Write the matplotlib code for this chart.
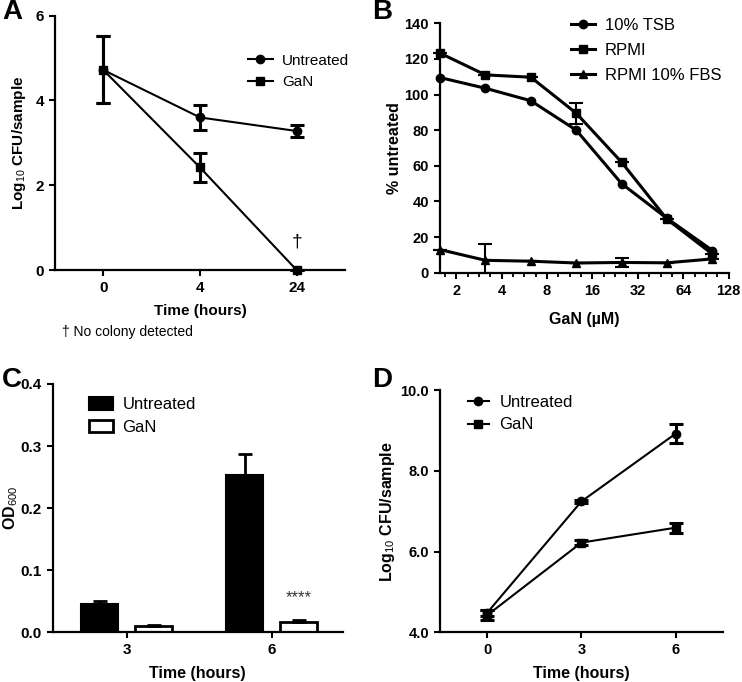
import matplotlib
matplotlib.use('Agg')
import matplotlib.pyplot as plt
import numpy as np
from matplotlib.ticker import FixedLocator, FixedFormatter, NullFormatter

plt.rcParams['font.family'] = ['Liberation Sans', 'DejaVu Sans']
plt.rcParams['mathtext.fontset'] = 'custom'
plt.rcParams['mathtext.rm'] = 'Liberation Sans'
plt.rcParams['mathtext.bf'] = 'Liberation Sans:bold'

#######################
#   DATA              #
#######################

# Panel A - CFU over time (categorical time points)
time_a = ['0', '4', '24']
untreated_a = [4.72, 3.60, 3.28]
untreated_a_err = [0.79, 0.30, 0.13]
gan_a = [4.72, 2.42, 0.0]
gan_a_err = [0.79, 0.34, 0.0]

# Panel B - dose response
gan_conc = [1.5625, 3.125, 6.25, 12.5, 25, 50, 100]
tsb_b = [109.5, 103.5, 96.5, 80.0, 50.0, 30.5, 12.5]
rpmi_b = [123.2, 111.0, 109.7, 89.5, 62.0, 30.0, 10.5]
rpmi_b_err = [0, 0, 0, 5.8, 0, 0, 0]
fbs_b = [13.0, 7.0, 6.5, 5.5, 5.8, 5.6, 7.8]
fbs_b_err_lo = [0, 7.0, 0, 0, 2.6, 0, 0]
fbs_b_err_hi = [0, 9.0, 0, 0, 2.6, 0, 0]
b_ticks = [2, 4, 8, 16, 32, 64, 128]

# Panel C - OD600 bars
time_c = ['3', '6']
untreated_c = [0.0447, 0.2536]
untreated_c_err = [0.005, 0.033]
gan_c = [0.0097, 0.0167]
gan_c_err = [0.002, 0.003]
star_c = 0.048

# Panel D - growth
time_d = [0, 3, 6]
untreated_d = [4.48, 7.24, 8.92]
untreated_d_err = [0.08, 0.03, 0.23]
gan_d = [4.42, 6.22, 6.59]
gan_d_err = [0.12, 0.07, 0.12]

###########################
#    Plotting the data    #
###########################

fig = plt.figure(figsize=(7.42, 6.82), dpi=100)

LABEL_FS = 11.5


def style_axes(ax, tick_fs):
    for s in ['top', 'right']:
        ax.spines[s].set_visible(False)
    for s in ['left', 'bottom']:
        ax.spines[s].set_linewidth(1.6)
    ax.tick_params(axis='both', which='major', direction='out', length=4.5, width=1.5,
                   labelsize=tick_fs)
    ax.tick_params(axis='both', which='minor', direction='out', length=3, width=1.3)
    for lab in ax.get_xticklabels() + ax.get_yticklabels():
        lab.set_fontweight('bold')


#### PANEL A ####
axA = fig.add_axes([0.074, 0.604, 0.391, 0.373])
xa = np.arange(len(time_a))
axA.errorbar(xa, untreated_a, yerr=untreated_a_err, color='k', lw=1.5, marker='o', ms=6,
             elinewidth=2.2, capsize=5, capthick=2.2, label='Untreated', clip_on=False, zorder=3)
axA.errorbar(xa, gan_a, yerr=gan_a_err, color='k', lw=1.5, marker='s', ms=6,
             elinewidth=2.2, capsize=5, capthick=2.2, label='GaN', clip_on=False, zorder=3)
axA.set_xlim(-0.5, 2.5)
axA.set_ylim(0, 6)
axA.set_xticks(xa)
axA.set_xticklabels(time_a)
axA.set_yticks([0, 2, 4, 6])
axA.set_xlabel('Time (hours)', fontsize=11, fontweight='bold', labelpad=6)
axA.set_ylabel(r'Log$_{\mathrm{10}}$ CFU/sample', fontsize=11, fontweight='bold', labelpad=5)
style_axes(axA, 11)
axA.text(xa[2], 0.45, '\u2020', fontsize=14, ha='center', va='bottom')
hA, lA = axA.get_legend_handles_labels()
hA = [h[0] for h in hA]
axA.legend(hA, lA, loc='upper left', bbox_to_anchor=(0.645, 0.875), frameon=False, fontsize=11,
           handlelength=1.6, handletextpad=0.6, labelspacing=0.5, borderaxespad=0)
fig.text(62 / 742, 1 - 332 / 682, '\u2020 No colony detected', fontsize=10, va='center', ha='left')

#### PANEL B ####
axB = fig.add_axes([0.593, 0.600, 0.389, 0.366])
axB.set_xscale('log', base=2)
axB.errorbar(gan_conc, tsb_b, color='k', lw=2.2, marker='o', ms=6,
             label='10% TSB', clip_on=False, zorder=3)
axB.errorbar(gan_conc, rpmi_b, yerr=rpmi_b_err, color='k', lw=2.2, marker='s', ms=6,
             elinewidth=1.5, capsize=5, capthick=1.5, label='RPMI', clip_on=False, zorder=3)
axB.errorbar(gan_conc, fbs_b, yerr=[fbs_b_err_lo, fbs_b_err_hi], color='k', lw=2.2, marker='^', ms=6,
             elinewidth=1.5, capsize=5, capthick=1.5, label='RPMI 10% FBS', clip_on=False, zorder=3)
axB.set_xlim(gan_conc[0], 128)
axB.set_ylim(0, 140)
axB.xaxis.set_major_locator(FixedLocator(b_ticks))
axB.xaxis.set_major_formatter(FixedFormatter([str(t) for t in b_ticks]))
minor_b = [2 ** (e + f) for e in range(0, 7) for f in (0.25, 0.5, 0.75)]
axB.xaxis.set_minor_locator(FixedLocator(minor_b))
axB.xaxis.set_minor_formatter(NullFormatter())
axB.set_yticks(np.arange(0, 141, 20))
axB.set_xlabel('GaN (\u00b5M)', fontsize=LABEL_FS, fontweight='bold', labelpad=10)
axB.set_ylabel('% untreated', fontsize=LABEL_FS, fontweight='bold', labelpad=2)
style_axes(axB, 10.5)
hB, lB = axB.get_legend_handles_labels()
hB = [h[0] for h in hB]
axB.legend(hB, lB, loc='upper left', bbox_to_anchor=(0.43, 1.047), frameon=False, fontsize=12,
           handlelength=1.45, handletextpad=0.6, labelspacing=0.6, borderaxespad=0)

#### PANEL C ####
axC = fig.add_axes([0.071, 0.073, 0.391, 0.364])
xc = np.arange(len(time_c))
bw = 0.255
off = 0.186
axC.bar(xc - off, untreated_c, bw, yerr=[np.zeros(len(xc)), untreated_c_err], color='k',
        edgecolor='k', lw=1.5, error_kw=dict(elinewidth=2, capsize=5, capthick=2, ecolor='k'),
        label='Untreated', zorder=2)
axC.bar(xc + off, gan_c, bw, yerr=[np.zeros(len(xc)), gan_c_err], color='white', edgecolor='k',
        lw=2, error_kw=dict(elinewidth=2, capsize=5, capthick=2, ecolor='k'), label='GaN', zorder=2)
axC.text(xc[1] + off, star_c, '****', fontsize=12, ha='center', va='baseline', color='#333333')
axC.set_xlim(-0.51, 1.49)
axC.set_ylim(0, 0.4)
axC.set_xticks(xc)
axC.set_xticklabels(time_c)
axC.set_yticks([0.0, 0.1, 0.2, 0.3, 0.4])
axC.set_yticklabels(['0.0', '0.1', '0.2', '0.3', '0.4'])
axC.set_xlabel('Time (hours)', fontsize=LABEL_FS, fontweight='bold', labelpad=6)
axC.set_ylabel(r'OD$_{\mathrm{600}}$', fontsize=LABEL_FS, fontweight='bold', labelpad=0.5)
style_axes(axC, 11)
axC.legend(loc='upper left', bbox_to_anchor=(0.103, 0.975), frameon=False, fontsize=12,
           handlelength=1.4, handleheight=0.8, handletextpad=0.6, labelspacing=0.45, borderaxespad=0)

#### PANEL D ####
axD = fig.add_axes([0.593, 0.073, 0.381, 0.355])
axD.errorbar(time_d, untreated_d, yerr=untreated_d_err, color='k', lw=1.5, marker='o', ms=6,
             elinewidth=2.2, capsize=5, capthick=2.2, label='Untreated', zorder=3)
axD.errorbar(time_d, gan_d, yerr=gan_d_err, color='k', lw=1.5, marker='s', ms=6,
             elinewidth=2.2, capsize=5, capthick=2.2, label='GaN', zorder=3)
axD.set_xlim(-1.5, 7.5)
axD.set_ylim(4, 10)
axD.set_xticks(time_d)
axD.set_yticks([4, 6, 8, 10])
axD.set_yticklabels(['4.0', '6.0', '8.0', '10.0'])
axD.set_xlabel('Time (hours)', fontsize=LABEL_FS, fontweight='bold', labelpad=6)
axD.set_ylabel(r'Log$_{\mathrm{10}}$ CFU/sample', fontsize=LABEL_FS, fontweight='bold', labelpad=2)
style_axes(axD, 10.5)
hD, lD = axD.get_legend_handles_labels()
hD = [h[0] for h in hD]
axD.legend(hD, lD, loc='upper left', bbox_to_anchor=(0.074, 1.008), frameon=False, fontsize=12,
           handlelength=1.3, handletextpad=0.6, labelspacing=0.45, borderaxespad=0)

#### Panel letters ####
for letter, (px, py) in zip('ABCD', [(2, 12), (372, 12), (2, 380), (372, 380)]):
    fig.text(px / 742, 1 - py / 682, letter, fontsize=20, fontweight='bold', ha='left', va='center')

fig.savefig('out.png', dpi=100)
plt.close()
